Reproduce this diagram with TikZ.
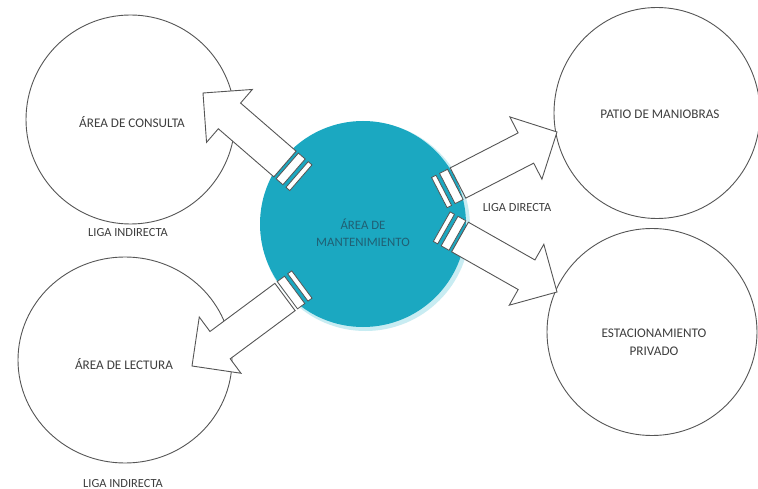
\documentclass[tikz,border=0pt]{standalone}
\usepackage{fontspec}
\setmainfont{Carlito}
\usetikzlibrary{calc,shapes.geometric}
\definecolor{tealfill}{RGB}{27,168,193}
\definecolor{glowc}{RGB}{200,236,242}
\definecolor{linegray}{RGB}{85,85,85}
\definecolor{txtgray}{RGB}{62,62,62}
\definecolor{darkteal}{RGB}{32,96,116}
\tikzset{
  areacirc/.style={ellipse, draw=linegray, line width=0.9pt, inner sep=0pt, fill=white},
  arrowshape/.style={draw=linegray, line width=0.9pt, fill=white, line join=miter},
  stripeshape/.style={draw=linegray, line width=0.8pt, fill=white},
  areatext/.style={text=txtgray, font=\fontsize{13.2}{16}\selectfont, inner sep=0pt, anchor=base},
  ligatext/.style={text=txtgray, font=\fontsize{12.4}{15}\selectfont, inner sep=0pt, anchor=base},
  centertext/.style={text=darkteal, font=\fontsize{12.8}{15}\selectfont, inner sep=0pt, anchor=base}
}
% #1 = tail coordinate (body end, on axis), #2 = tip coordinate
\newcommand\stripedarrow[2]{%
  \coordinate (#1-b) at ($(#2)!35pt!(#1)$);
  \coordinate (#1-q1) at ($(#1)!-3pt!(#2)$);
  \coordinate (#1-q2) at ($(#1)!-12pt!(#2)$);
  \coordinate (#1-q3) at ($(#1)!-16pt!(#2)$);
  \coordinate (#1-q4) at ($(#1)!-21pt!(#2)$);
  \draw[stripeshape] ($(#1-q1)!17pt!90:(#2)$) -- ($(#1-q2)!17pt!90:(#2)$) -- ($(#1-q2)!17pt!-90:(#2)$) -- ($(#1-q1)!17pt!-90:(#2)$) -- cycle;
  \draw[stripeshape] ($(#1-q3)!17pt!90:(#2)$) -- ($(#1-q4)!17pt!90:(#2)$) -- ($(#1-q4)!17pt!-90:(#2)$) -- ($(#1-q3)!17pt!-90:(#2)$) -- cycle;
  \draw[arrowshape] ($(#1)!17pt!90:(#2)$) -- ($(#1-b)!17pt!90:(#2)$) -- ($(#1-b)!35pt!90:(#2)$) -- (#2) -- ($(#1-b)!35pt!-90:(#2)$) -- ($(#1-b)!17pt!-90:(#2)$) -- ($(#1)!17pt!-90:(#2)$) -- cycle;
}
\begin{document}
\begin{tikzpicture}[x=1pt, y=-1pt]
\useasboundingbox (0,0) rectangle (758,489);
\fill[white] (0,0) rectangle (758,489);

% outer areas
\node[areacirc, minimum width=209pt, minimum height=209pt] (consulta) at (130.5,119.5) {};
\node[areacirc, minimum width=214pt, minimum height=206pt] (lectura) at (125,360) {};
\node[areacirc, minimum width=206pt, minimum height=211pt] (patio) at (657,113) {};
\node[areacirc, minimum width=210pt, minimum height=207pt] (estac) at (652,332) {};

% central area
\fill[glowc] (365.5,226.5) circle (104.5);
\node[circle, fill=tealfill, inner sep=0pt, minimum size=206pt] (mant) at (363,224) {};

% arrow tails (inside central circle) and tips (inside outer circles)
\coordinate (tl) at (285,164);
\coordinate (tlh) at (203,93);
\coordinate (ur) at (458,183);
\coordinate (urh) at (557,132);
\coordinate (br) at (460,237);
\coordinate (brh) at (557,292);
\coordinate (bl) at (285,297);
\coordinate (blh) at (192,366);

\stripedarrow{tl}{tlh}
\stripedarrow{ur}{urh}
\stripedarrow{br}{brh}
\stripedarrow{bl}{blh}

% texts
\node[areatext] (tconsulta) at (132,127.2) {ÁREA DE CONSULTA};
\node[ligatext] (tliga1) at (128,237) {LIGA INDIRECTA};
\node[areatext] (tlectura) at (124,369.2) {ÁREA DE LECTURA};
\node[ligatext] (tliga2) at (123,487) {LIGA INDIRECTA};
\node[areatext] (tpatio) at (660,118.2) {PATIO DE MANIOBRAS};
\node[areatext] (testac1) at (654,337.2) {ESTACIONAMIENTO};
\node[areatext] (testac2) at (654,355.2) {PRIVADO};
\node[ligatext] (tliga3) at (517,212) {LIGA DIRECTA};
\node[centertext] (tmant1) at (363,230) {ÁREA DE};
\node[centertext] (tmant2) at (363,247) {MANTENIMIENTO};
\end{tikzpicture}
\end{document}
